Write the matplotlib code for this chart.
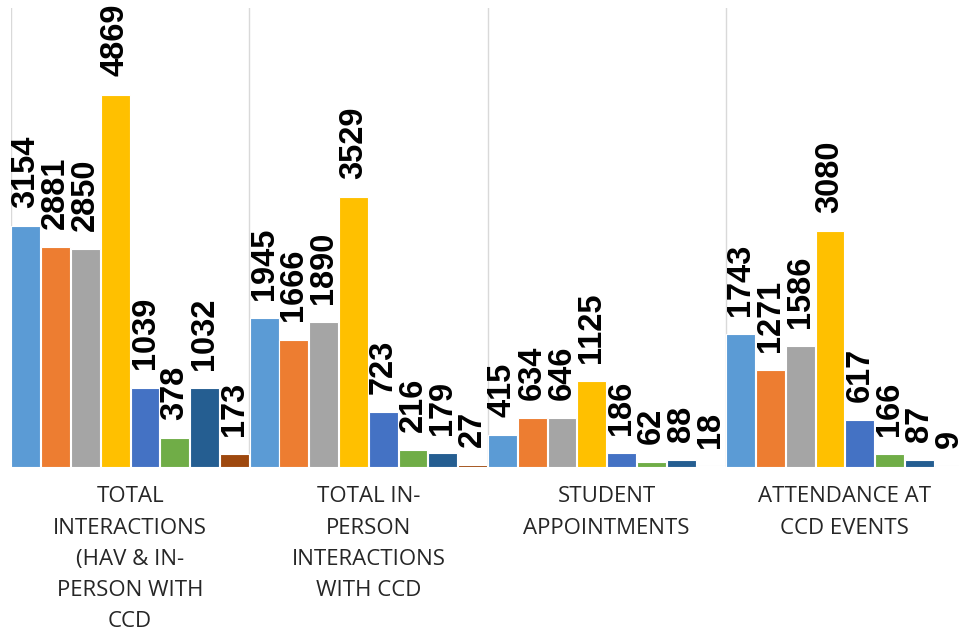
import matplotlib
matplotlib.use("Agg")
from matplotlib import pyplot as plt
import numpy as np

categories = ['TOTAL\nINTERACTIONS\n(HAV & IN-\nPERSON WITH\nCCD',
              'TOTAL IN-\nPERSON\nINTERACTIONS\nWITH CCD',
              'STUDENT\nAPPOINTMENTS',
              'ATTENDANCE AT\nCCD EVENTS']

# eight series, one value per category
s1 = [3154, 1945, 415, 1743]
s2 = [2881, 1666, 634, 1271]
s3 = [2850, 1890, 646, 1586]
s4 = [4869, 3529, 1125, 3080]
s5 = [1039, 723, 186, 617]
s6 = [378, 216, 62, 166]
s7 = [1032, 179, 88, 87]
s8 = [173, 27, 18, 9]
series = [s1, s2, s3, s4, s5, s6, s7, s8]

colors = ['#5B9BD5', '#ED7D31', '#A5A5A5', '#FFC000',
          '#4472C4', '#70AD47', '#255E91', '#9E480E']

fig = plt.figure(figsize=(9.59, 6.41), dpi=100)
# axes runs a little past the right edge, as in the original crop
ax = fig.add_axes([11 / 959, 174 / 641, 953 / 959, 459 / 641])

x = np.arange(len(categories))
n = len(series)
slot = 1.0 / n
for j, vals in enumerate(series):
    pos = x - 0.5 + (j + 0.5) * slot
    bars = ax.bar(pos, vals, width=slot * 0.97, color=colors[j],
                  edgecolor='white', linewidth=0.8, zorder=3)
    for b, v in zip(bars, vals):
        ax.annotate(str(v), (b.get_x() + b.get_width() / 2, v),
                    xytext=(0, 13), textcoords='offset points',
                    rotation=90, ha='center', va='bottom',
                    fontsize=23.5, fontweight='bold',
                    family='Liberation Sans', color='black', zorder=4)

ax.set_xlim(-0.5, len(categories) - 0.5)
ax.set_ylim(0, 6000)

for b in np.arange(len(categories)) - 0.5:
    ax.axvline(b, color='#D9D9D9', linewidth=1, zorder=1)
ax.axhline(0, color='#D9D9D9', linewidth=1.5, zorder=2)

for sp in ax.spines.values():
    sp.set_visible(False)
ax.set_yticks([])
ax.set_xticks(x)
ax.set_xticklabels(categories, fontsize=16, family='Open Sans',
                   color='#262626', linespacing=1.64)
ax.tick_params(axis='x', length=0, pad=14)

plt.savefig('out.png', dpi=100)
